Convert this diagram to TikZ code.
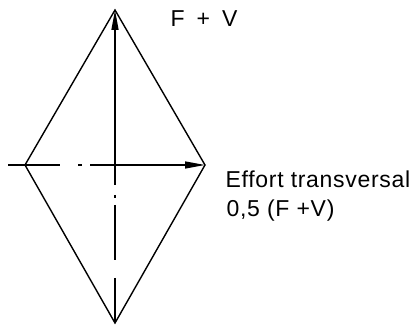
\documentclass[tikz,border=0pt]{standalone}
\usepackage{fontspec}
\setmainfont{Liberation Sans}[LetterSpace=3]
\usetikzlibrary{arrows.meta}

\begin{document}
\begin{tikzpicture}[x=1pt,y=-1pt, line width=1.4pt,
    every node/.style={font=\fontsize{23}{26}\selectfont, inner sep=0pt, anchor=base west},
    force/.style={-{Triangle[length=20pt,width=7pt]}},
    axisline/.style={line width=1.3pt}]
  \useasboundingbox (0,0) rectangle (413,331);
  \coordinate (top) at (115,10);
  \coordinate (right) at (205,165);
  \coordinate (bottom) at (115,323);
  \coordinate (left) at (25,165);
  \coordinate (mid) at (115,165);
  \coordinate (axisstart) at (8,165);
  \draw (top) -- (right) -- (bottom) -- (left) -- cycle;
  \draw[axisline, dash pattern=on 52pt off 18pt on 4pt off 8pt on 60pt off 1pt] (axisstart) -- (mid);
  \draw[axisline, dash pattern=on 20pt off 10pt on 3pt off 7pt on 55pt off 18pt on 60pt off 1pt] (mid) -- (bottom);
  \draw[force] (mid) -- (top);
  \draw[force] (mid) -- (right);
  \node[font={\fontsize{23}{26}\selectfont\spaceskip=12pt}] (fv) at (170,27) {F + V};
  \node (effort) at (225,188) {Effort transversal};
  \node (half) at (226,216.5) {0,5 (F +V)};
\end{tikzpicture}
\end{document}
